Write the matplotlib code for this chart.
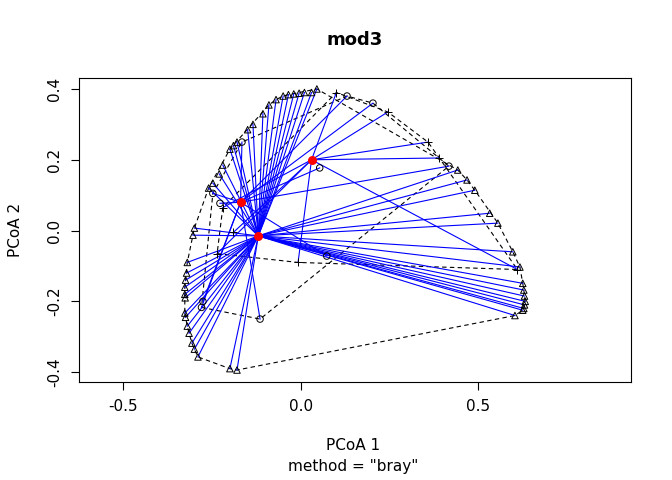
import numpy as np
import matplotlib.pyplot as plt

# group centroids (PCoA 1, PCoA 2)
cent_x = [-0.17, 0.03, -0.12]
cent_y = [0.08, 0.20, -0.015]

# group 1: circles
g1_x = [0.13, 0.203, 0.417, 0.053, 0.073, -0.115, -0.28, -0.228, -0.248, -0.166, -0.276]
g1_y = [0.38, 0.36, 0.182, 0.177, -0.072, -0.25, -0.217, 0.077, 0.105, 0.25, -0.20]
# group 2: crosses
g2_x = [0.10, 0.245, 0.358, 0.39, 0.61, -0.008, -0.236, -0.22, -0.19]
g2_y = [0.39, 0.335, 0.25, 0.205, -0.11, -0.09, -0.065, 0.065, -0.005]
# group 3: triangles
g3_x = [0.045, 0.03, 0.01, -0.005, -0.02, -0.035, -0.05, -0.07, -0.09, -0.107, -0.135, -0.15,
        -0.18, -0.19, -0.20, -0.22, -0.23, -0.248, -0.26, -0.30, -0.304, -0.32, -0.322, -0.325,
        -0.327, -0.327, -0.326, -0.327, -0.325, -0.32, -0.315, -0.307, -0.30, -0.29, -0.2, -0.18,
        0.442, 0.468, 0.49, 0.532, 0.555, 0.597, 0.617, 0.625, 0.628, 0.63, 0.632, 0.63, 0.628,
        0.625, 0.603]
g3_y = [0.40, 0.39, 0.39, 0.388, 0.386, 0.384, 0.38, 0.37, 0.355, 0.33, 0.30, 0.285,
        0.25, 0.24, 0.23, 0.185, 0.16, 0.134, 0.12, 0.007, -0.013, -0.09, -0.12, -0.14,
        -0.16, -0.18, -0.19, -0.233, -0.245, -0.27, -0.29, -0.318, -0.335, -0.357, -0.39, -0.394,
        0.171, 0.143, 0.114, 0.049, 0.021, -0.06, -0.103, -0.149, -0.168, -0.185, -0.2, -0.21,
        -0.22, -0.225, -0.24]

groups = [(g1_x, g1_y, 'o'), (g2_x, g2_y, '+'), (g3_x, g3_y, '^')]


def hull(px, py):
    pts = sorted(set(zip(px, py)))
    def cross(o, a, b):
        return (a[0]-o[0])*(b[1]-o[1]) - (a[1]-o[1])*(b[0]-o[0])
    lower, upper = [], []
    for p in pts:
        while len(lower) >= 2 and cross(lower[-2], lower[-1], p) <= 0:
            lower.pop()
        lower.append(p)
    for p in reversed(pts):
        while len(upper) >= 2 and cross(upper[-2], upper[-1], p) <= 0:
            upper.pop()
        upper.append(p)
    h = lower[:-1] + upper[:-1]
    h.append(h[0])
    return [p[0] for p in h], [p[1] for p in h]


fig = plt.figure(figsize=(6.72, 4.8), dpi=100)
ax = fig.add_axes([0.1176, 0.204, 0.8214, 0.6335])

for i, (gx, gy, m) in enumerate(groups):
    hx, hy = hull(gx, gy)
    ax.plot(hx, hy, color='black', ls=(0, (4, 3)), lw=0.8, zorder=1)
    for x, y in zip(gx, gy):
        ax.plot([cent_x[i], x], [cent_y[i], y], color='blue', lw=0.8, zorder=2)
    if m == '+':
        ax.scatter(gx, gy, marker='+', c='black', s=40, lw=0.7, zorder=3)
    else:
        ax.scatter(gx, gy, marker=m, facecolors='none', edgecolors='black', s=22, lw=0.7, zorder=3)

ax.scatter(cent_x, cent_y, color='red', s=30, zorder=4)

ax.set_xlim(-0.625, 0.93)
ax.set_ylim(-0.428, 0.431)
ax.set_xticks([-0.5, 0.0, 0.5])
ax.set_xticklabels(['-0.5', '0.0', '0.5'])
ax.set_yticks([-0.4, -0.2, 0.0, 0.2, 0.4])
ax.set_yticklabels(['-0.4', '-0.2', '0.0', '0.2', '0.4'], rotation=90, va='center')
ax.tick_params(labelsize=11, length=6, width=0.8, pad=6)
for s in ax.spines.values():
    s.set_linewidth(0.8)

ax.set_title('mod3', fontsize=13, fontweight='bold', pad=24)
fig.text(0.526, 0.062, 'PCoA 1', ha='center', fontsize=11)
fig.text(0.526, 0.018, 'method = "bray"', ha='center', fontsize=11)
fig.text(0.012, 0.52, 'PCoA 2', va='center', rotation=90, fontsize=11)

fig.savefig('out.png', dpi=100)
